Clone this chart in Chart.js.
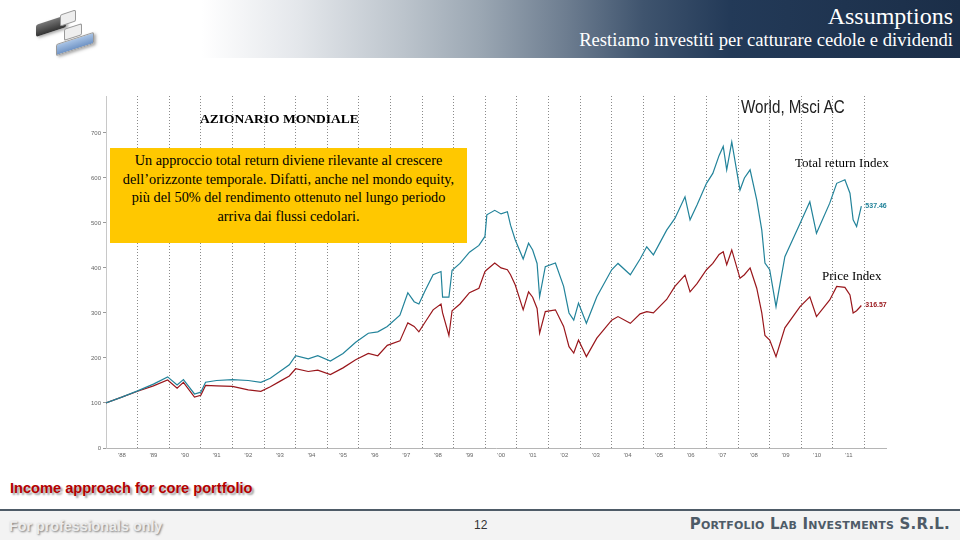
<!DOCTYPE html>
<html>
<head>
<meta charset="utf-8">
<script src="https://cdn.jsdelivr.net/npm/chart.js@4.4.1/dist/chart.umd.min.js"></script>
<style>
  body { margin: 0; width: 960px; height: 540px; position: relative; overflow: hidden; background: #fff; font-family: "Liberation Serif", serif; }
  .abs { position: absolute; white-space: nowrap; }
  #header { left: 0; top: 0; width: 960px; height: 58px;
    background: linear-gradient(to right, #fff 0%, #fff 21%, #e4e7eb 31%, #bcc4cc 42%, #9ba7b3 50%, #6d7d90 59%, #3f546e 67%, #233a58 76%, #1b2e48 100%); }
  #title { right: 7px; top: 3px; color: #fff; font-size: 24px; }
  #subtitle { right: 7px; top: 29px; color: #fff; font-size: 18.6px; }
  #box { left: 110px; top: 148px; width: 357px; height: 95px; background: #ffc800; text-align: center; font-size: 14.3px; line-height: 18.5px; padding-top: 3px; box-sizing: border-box; }
  #azi { left: 200px; top: 111px; font-weight: bold; font-size: 13.5px; }
  #world { left: 741px; top: 96px; font-family: "Liberation Sans", Arial, sans-serif; font-size: 19px; color: #222; transform: scaleX(0.8); transform-origin: left top; }
  #trLbl { left: 795px; top: 155px; font-size: 13px; }
  #pLbl { left: 822px; top: 268px; font-size: 13px; }
  #income { left: 10px; top: 480px; font-family: "Liberation Sans", Arial, sans-serif; font-weight: bold; font-size: 14.6px; color: #b40000; text-shadow: 2px 2px 2px #9a9a9a; }
  #rule { left: 0; top: 509px; width: 960px; height: 2px; background: #4e5b67; }
  #footer { left: 0; top: 511px; width: 960px; height: 29px; background: #f3f3f3; }
  #prof { left: 9px; top: 518px; font-family: "Liberation Sans", Arial, sans-serif; font-weight: bold; font-size: 14.3px; color: #ececec; text-shadow: 1px 1px 2px #7a7a7a; }
  #page { left: 474px; top: 518px; font-family: "Liberation Sans", Arial, sans-serif; font-size: 12px; color: #333; }
  #firm { right: 10px; top: 515px; font-family: "DejaVu Sans", sans-serif; font-weight: bold; font-variant: small-caps; font-size: 15px; color: #4e5b67; letter-spacing: 0.2px; }
  .logo { position: absolute; border-radius: 2px; }
</style>
</head>
<body>
<div id="header" class="abs"></div>
<div class="logo" style="left:36px;top:20px;width:30px;height:12px;background:linear-gradient(#777,#333);transform:skewY(-18deg);box-shadow:2px 2px 3px #aaa;"></div>
<div class="logo" style="left:60px;top:12px;width:14px;height:10px;background:#eee;border:1px solid #999;transform:skewY(-18deg);"></div>
<div class="logo" style="left:64px;top:26px;width:16px;height:10px;background:#eee;border:1px solid #999;transform:skewY(-18deg);"></div>
<div class="logo" style="left:56px;top:38px;width:36px;height:10px;background:linear-gradient(#a9c4e6,#6f93c4);border:1px solid #999;transform:skewY(-18deg);box-shadow:2px 2px 3px #aaa;"></div>
<div id="title" class="abs">Assumptions</div>
<div id="subtitle" class="abs">Restiamo investiti per catturare cedole e dividendi</div>

<canvas id="chart" width="830" height="380" style="position:absolute;left:70px;top:90px;"></canvas>

<div id="azi" class="abs">AZIONARIO MONDIALE</div>
<div id="world" class="abs">World, Msci AC</div>
<div id="trLbl" class="abs">Total return Index</div>
<div id="pLbl" class="abs">Price Index</div>
<div id="box" class="abs">Un approccio total return diviene rilevante al crescere<br>dell’orizzonte temporale. Difatti, anche nel mondo equity,<br>più del 50% del rendimento ottenuto nel lungo periodo<br>arriva dai flussi cedolari.</div>

<div id="income" class="abs">Income approach for core portfolio</div>
<div id="rule" class="abs"></div>
<div id="footer" class="abs"></div>
<div id="prof" class="abs">For professionals only</div>
<div id="page" class="abs">12</div>
<div id="firm" class="abs">Portfolio Lab Investments S.R.L.</div>

<script>
// dates as decimal years
const dates = [1988.0, 1988.5, 1989.0, 1989.5, 1989.95, 1990.25, 1990.45, 1990.8, 1991.0, 1991.15,
  1991.5, 1992.0, 1992.5, 1992.9, 1993.2, 1993.5, 1993.8, 1994.0, 1994.4, 1994.7,
  1995.1, 1995.5, 1995.9, 1996.3, 1996.6, 1996.9, 1997.3, 1997.55, 1997.75, 1997.9,
  1998.1, 1998.35, 1998.6, 1998.65, 1998.85, 1998.95, 1999.2, 1999.5, 1999.8, 1999.99,
  2000.05, 2000.3, 2000.5, 2000.7, 2000.8, 2000.95, 2001.2, 2001.37, 2001.5, 2001.64,
  2001.72, 2001.9, 2002.22, 2002.48, 2002.65, 2002.8, 2002.95, 2003.2, 2003.53, 2004.0,
  2004.2, 2004.59, 2004.9, 2005.11, 2005.32, 2005.74, 2006.0, 2006.32, 2006.48, 2006.7,
  2007.0, 2007.2, 2007.4, 2007.53, 2007.64, 2007.8, 2008.06, 2008.2, 2008.38, 2008.59,
  2008.75, 2008.85, 2009.0, 2009.2, 2009.48, 2009.96, 2010.27, 2010.48, 2010.9, 2011.12,
  2011.38, 2011.54, 2011.64, 2011.75, 2011.9];

const totalReturn = [100, 113, 127, 142, 158, 140, 152, 120, 124, 146,
  150, 152, 150, 146, 155, 170, 185, 205, 198, 205,
  193, 210, 235, 255, 258, 270, 295, 345, 325, 320,
  350, 385, 392, 335, 335, 395, 410, 435, 450, 470,
  518, 528, 520, 525, 495, 462, 420, 455, 440, 410,
  336, 403, 411, 359, 300, 284, 322, 277, 336, 396,
  410, 385, 420, 447, 429, 484, 510, 558, 507, 540,
  588, 610, 650, 670, 618, 680, 573, 600, 618, 551,
  484, 411, 396, 314, 425, 499, 547, 477, 544, 588,
  596, 566, 507, 492, 537.46];

const priceIndex = [100, 113, 126, 138, 151, 133, 146, 113, 117, 139,
  138, 137, 129, 126, 136, 148, 160, 176, 170, 173,
  163, 178, 196, 210, 205, 228, 238, 278, 270, 258,
  280, 307, 320, 300, 250, 305, 320, 345, 355, 392,
  396, 411, 400, 396, 385, 362, 307, 347, 335, 310,
  255, 303, 307, 270, 225, 211, 240, 203, 244, 284,
  292, 277, 298, 303, 300, 330, 359, 384, 347, 365,
  396, 410, 430, 436, 407, 440, 377, 385, 400, 355,
  300, 250, 240, 203, 267, 314, 336, 292, 329, 359,
  357, 340, 300, 305, 316.57];

const yTicks = [0, 100, 200, 300, 400, 500, 600, 700];
const firstYear = 1988, lastYear = 2012;

const TEAL = '#22839a';
const RED = '#99161b';

// label the last value of each line, like the original
const endLabels = {
  id: 'endLabels',
  afterDatasetsDraw(chart) {
    const ctx = chart.ctx;
    ctx.save();
    ctx.font = 'bold 7px "Liberation Sans", Arial, sans-serif';
    ctx.textBaseline = 'middle';
    chart.data.datasets.forEach((ds, i) => {
      const pts = chart.getDatasetMeta(i).data;
      const p = pts[pts.length - 1];
      ctx.fillStyle = ds.borderColor;
      ctx.fillText(ds.data[ds.data.length - 1].y.toFixed(2), p.x + 4, p.y);
    });
    ctx.restore();
  }
};

new Chart(document.getElementById('chart'), {
  type: 'line',
  data: {
    datasets: [
      { label: 'Total return Index', data: dates.map((d, i) => ({ x: d, y: totalReturn[i] })),
        borderColor: TEAL, borderWidth: 1.2, pointRadius: 0, tension: 0 },
      { label: 'Price Index', data: dates.map((d, i) => ({ x: d, y: priceIndex[i] })),
        borderColor: RED, borderWidth: 1.2, pointRadius: 0, tension: 0 }
    ]
  },
  options: {
    responsive: false,
    animation: false,
    devicePixelRatio: 1,
    layout: { padding: { top: 6, right: 14, left: 0, bottom: 0 } },
    plugins: { legend: { display: false }, tooltip: { enabled: false } },
    scales: {
      x: {
        type: 'linear', min: firstYear, max: 2012.68,
        afterBuildTicks: s => {
          const t = [];
          for (let y = firstYear; y <= lastYear; y++) {
            t.push({ value: y });
            if (y < lastYear) t.push({ value: y + 0.5 });
          }
          s.ticks = t;
        },
        afterFit: s => { s.height = 22; },
        grid: {
          drawTicks: false,
          lineWidth: 1,
          color: c => (c.tick && Number.isInteger(c.tick.value) && c.tick.value > firstYear) ? '#8a8a8a' : 'rgba(0,0,0,0)'
        },
        border: { display: true, color: '#b5b5b5', dash: [1, 2] },
        ticks: {
          autoSkip: false, maxRotation: 0, padding: 4, color: '#666',
          font: { size: 6, family: 'Liberation Sans, Arial, sans-serif' },
          callback: v => Number.isInteger(v) ? '' : '\u2019' + String(Math.floor(v)).slice(2)
        }
      },
      y: {
        min: 0, max: 782,
        afterBuildTicks: s => { s.ticks = yTicks.map(v => ({ value: v })); },
        afterFit: s => { s.width = 36; },
        grid: { drawOnChartArea: false, tickLength: 3, color: '#999' },
        border: { display: true, color: '#c8c8c8' },
        ticks: { padding: 2, color: '#666', font: { size: 6, family: 'Liberation Sans, Arial, sans-serif' } }
      }
    }
  },
  plugins: [endLabels]
});
</script>
</body>
</html>
